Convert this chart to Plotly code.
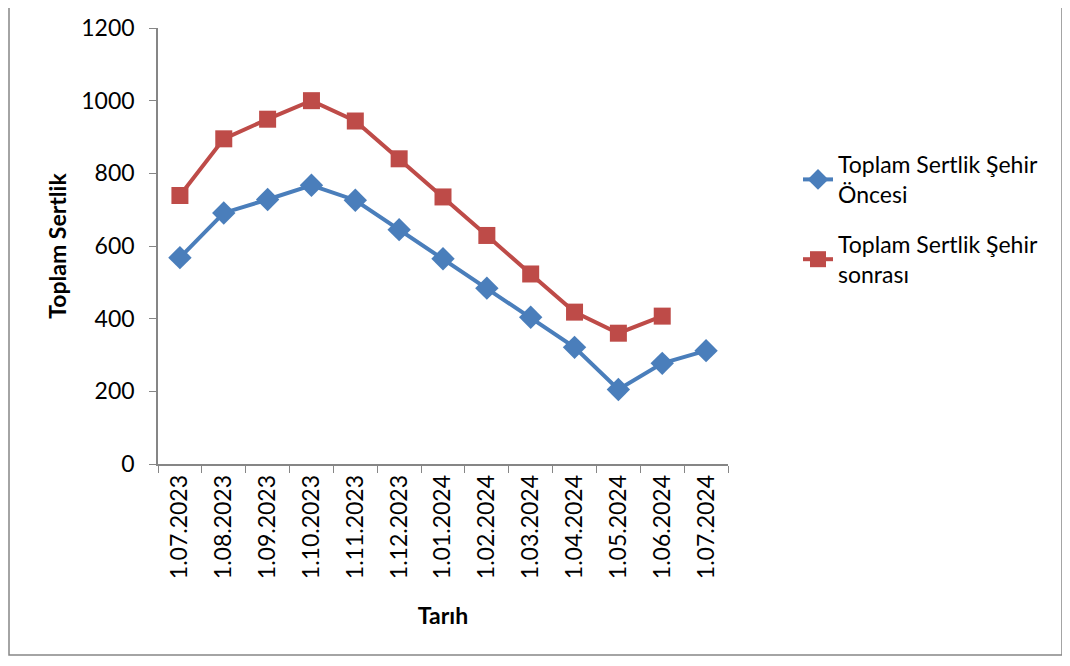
import plotly.graph_objects as go

dates = ["1.07.2023", "1.08.2023", "1.09.2023", "1.10.2023", "1.11.2023", "1.12.2023",
         "1.01.2024", "1.02.2024", "1.03.2024", "1.04.2024", "1.05.2024", "1.06.2024", "1.07.2024"]
oncesi = [568, 691, 728, 767, 726, 645, 565, 484, 404, 321, 205, 277, 312]
sonrasi = [739, 895, 949, 1000, 944, 840, 735, 629, 523, 418, 360, 407, None]

name1 = "Toplam Sertlik Şehir<br>Öncesi"
name2 = "Toplam Sertlik Şehir<br>sonrası"

FONT = "Lato, Open Sans, sans-serif"

# page body has an 8px offset; plot area target: x 158..728, y 28..464
OFF = 8
PX0, PX1, PY0, PY1 = 158, 728, 28, 464
W, H = 1070, 666
PW, PH = PX1 - PX0, PY1 - PY0

def px(x):
    return (x - PX0) / PW

def py(y):
    return (PY1 - y) / PH

fig = go.Figure()
fig.add_trace(go.Scatter(x=dates, y=oncesi, name=name1, mode="lines+markers", legendgroup="g1",
                         line=dict(color="#4A7EBB", width=4),
                         marker=dict(symbol="diamond", size=18, color="#4A7EBB")))
fig.add_trace(go.Scatter(x=dates, y=sonrasi, name=name2, mode="lines+markers", legendgroup="g2",
                         line=dict(color="#BE4B48", width=4),
                         marker=dict(symbol="square", size=17, color="#BE4B48")))

fig.update_layout(
    width=W, height=H,
    margin=dict(l=PX0 - OFF, r=W + OFF - PX1, t=PY0 - OFF, b=H + OFF - PY1, autoexpand=False),
    paper_bgcolor="white", plot_bgcolor="white",
    font=dict(family=FONT, size=22, color="black"),
    showlegend=True,
    legend=dict(x=px(798), y=py(143), xanchor="left", yanchor="top",
                font=dict(family=FONT, size=23), tracegroupgap=17,
                bgcolor="rgba(0,0,0,0)"),
    xaxis=dict(type="category", showgrid=False, showline=True, linecolor="#868686", linewidth=1.5,
               ticks="outside", tickson="boundaries", ticklen=7, tickcolor="#868686",
               tickangle=-90, tickfont=dict(family=FONT, size=23), automargin=False,
               title=dict(text="<b>Tarıh</b>", font=dict(family=FONT, size=23), standoff=30),
               range=[-0.5, 12.5]),
    yaxis=dict(range=[0, 1200], dtick=200, showgrid=False, showline=True, linecolor="#868686",
               linewidth=1.5, ticks="outside", ticklen=7, tickcolor="#868686",
               tickfont=dict(family=FONT, size=23), zeroline=False, automargin=False,
               ticklabelstandoff=10,
               title=dict(text="<b>Toplam Sertlik</b>", font=dict(family=FONT, size=23), standoff=8)),
    shapes=[dict(type="rect", xref="paper", yref="paper",
                 x0=px(9), x1=px(1062), y0=py(655), y1=py(-10),
                 line=dict(color="#868686", width=1.5), fillcolor="rgba(0,0,0,0)", layer="below")],
)

fig.write_html("out.html")
